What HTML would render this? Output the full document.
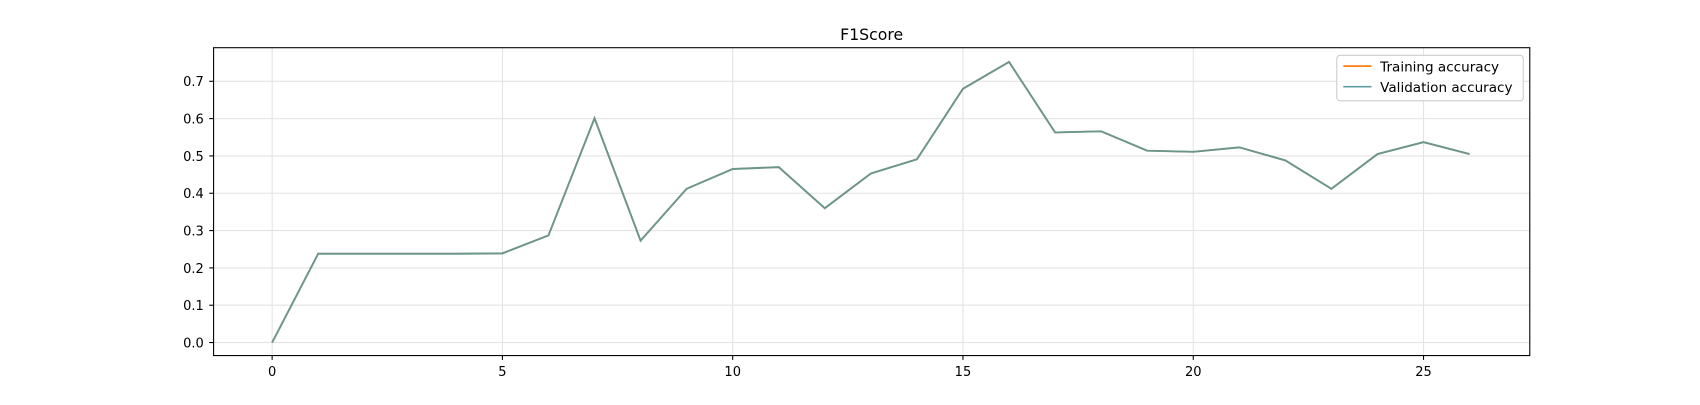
<!DOCTYPE html>
<html><head><meta charset="utf-8"><style>
body{margin:0;background:#fff;font-family:"Liberation Sans","DejaVu Sans",sans-serif;overflow:hidden;}
svg text{font-family:"DejaVu Sans","Liberation Sans",sans-serif;}
</style></head><body>
<svg id="chart" width="1700" height="400" viewBox="0 0 1568 369" preserveAspectRatio="none" xmlns="http://www.w3.org/2000/svg">
<rect width="1568" height="369" fill="#fff"/>
<text x="804" y="37" font-size="14.5" text-anchor="middle">F1Score</text>
<g id="grid"></g><g id="ticks"></g><g id="series"></g>
<rect x="197" y="44" width="1214" height="284" fill="none" stroke="#000" stroke-width="1"/>
<g>
<rect x="1233" y="51" width="172" height="42" rx="3" fill="#fff" fill-opacity="0.8" stroke="#ccc"/>
<line x1="1239" y1="61" x2="1265" y2="61" stroke="#ff7f0e" stroke-width="1.5"/>
<text x="1273" y="66" font-size="12.5">Training accuracy</text>
<line x1="1239" y1="80" x2="1265" y2="80" stroke="#5f9ea0" stroke-width="1.5"/>
<text x="1273" y="85" font-size="12.5">Validation accuracy</text>
</g>
</svg>
<script>
const epochs=[0,1,2,3,4,5,6,7,8,9,10,11,12,13,14,15,16,17,18,19,20,21,22,23,24,25,26];
const trainAcc=[0,0.238,0.238,0.238,0.238,0.239,0.287,0.601,0.273,0.412,0.465,0.470,0.360,0.453,0.491,0.680,0.752,0.563,0.566,0.514,0.511,0.523,0.488,0.412,0.505,0.537,0.505];
const valAcc=[0,0.238,0.238,0.238,0.238,0.239,0.287,0.601,0.273,0.412,0.465,0.470,0.360,0.453,0.491,0.680,0.752,0.563,0.566,0.514,0.511,0.523,0.488,0.412,0.505,0.537,0.505];
const xTicks=[0,5,10,15,20,25];
const yTicks=[0,0.1,0.2,0.3,0.4,0.5,0.6,0.7];
const NS="http://www.w3.org/2000/svg";
const sx=v=>251+v*42.48;
const sy=v=>316-v*344.3;
const grid=document.getElementById('grid'),ticks=document.getElementById('ticks'),series=document.getElementById('series');
function mk(tag,attrs,parent){const e=document.createElementNS(NS,tag);for(const k in attrs)e.setAttribute(k,attrs[k]);parent.appendChild(e);return e;}
xTicks.forEach(t=>{
 const g=mk('line',{x1:sx(t),x2:sx(t),y1:44,y2:328,stroke:'#e3e3e3','stroke-width':1},grid);
 
 
 mk('line',{x1:sx(t),x2:sx(t),y1:328,y2:332,stroke:'#000'},ticks);
 const tx=mk('text',{x:sx(t),y:347,'font-size':12,'text-anchor':'middle'},ticks);tx.textContent=t;
 
 
});
yTicks.forEach(t=>{
 const g=mk('line',{x1:197,x2:1411,y1:sy(t),y2:sy(t),stroke:'#e3e3e3','stroke-width':1},grid);
 
 
 mk('line',{x1:193,x2:197,y1:sy(t),y2:sy(t),stroke:'#000'},ticks);
 const tx=mk('text',{x:188,y:sy(t)+4.5,'font-size':12,'text-anchor':'end'},ticks);tx.textContent=t.toFixed(1);
 
 
});
const p1=mk('polyline',{points:epochs.map((e,i)=>sx(e)+','+sy(trainAcc[i])).join(' '),fill:'none',stroke:'#ff7f0e','stroke-width':1.5},series);


const p2=mk('polyline',{points:epochs.map((e,i)=>sx(e)+','+sy(valAcc[i])).join(' '),fill:'none',stroke:'#6b968c','stroke-width':1.8},series);


</script>
</body></html>
